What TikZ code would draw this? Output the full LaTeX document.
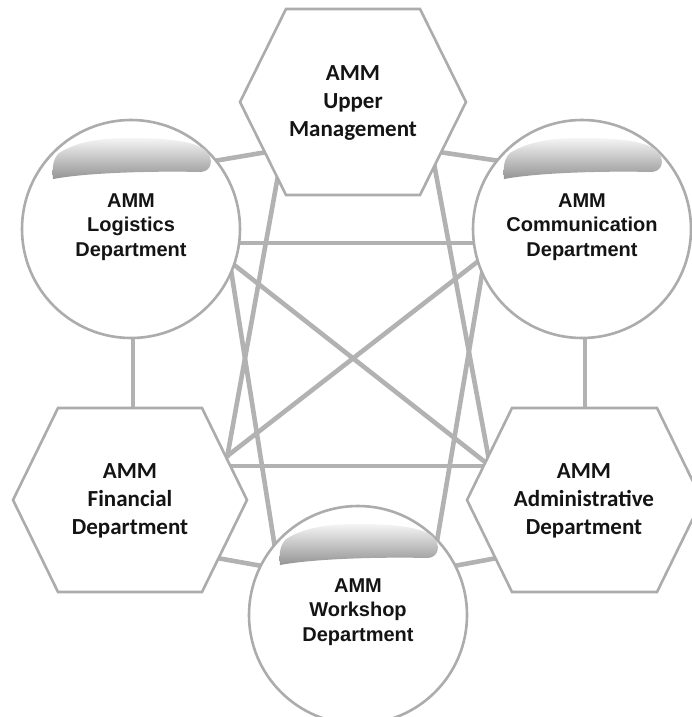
\documentclass[tikz,border=0pt]{standalone}
\usepackage{fontspec}
\newfontfamily\hexfont{Carlito}
\newfontfamily\circfont{Liberation Sans}
\definecolor{lineg}{RGB}{178,178,178}
\definecolor{edgeg}{RGB}{172,172,172}
\definecolor{txt}{RGB}{20,20,20}
\begin{document}
\begin{tikzpicture}[x=1pt,y=-1pt,
  conn/.style={draw=lineg, line width=4.6pt},
  hexshape/.style={draw=edgeg, line width=2.6pt, fill=white, line join=miter},
  circshape/.style={circle, draw=edgeg, line width=2.6pt, fill=white, minimum size=218pt, inner sep=0pt},
  hextext/.style={align=center, font=\hexfont\bfseries\fontsize{23}{28}\selectfont, text=txt},
  circtext/.style={align=center, font=\circfont\bfseries\fontsize{20}{24.5}\selectfont, text=txt},
  gloss/.style={top color=black!4, bottom color=black!42, draw=none}
]
\useasboundingbox (0,0) rectangle (692,717);
\fill[white] (0,0) rectangle (692,717);

% connector end points
\coordinate (upL1) at (267,152);  \coordinate (logR1) at (214,161);
\coordinate (upR1) at (439,152);  \coordinate (comL1) at (500,161);
\coordinate (logR2) at (236,243); \coordinate (comL2) at (477,243);
\coordinate (logB) at (133,335);  \coordinate (finT) at (133,410);
\coordinate (comB) at (585,335);  \coordinate (admT) at (585,410);
\coordinate (finR) at (228,466);  \coordinate (admL) at (486,466);
\coordinate (finRB) at (217,558); \coordinate (wsL) at (262,566);
\coordinate (wsR) at (454,566);   \coordinate (admLB) at (497,558);
\coordinate (upBL) at (279,170);  \coordinate (finRU) at (227,458);
\coordinate (upBR) at (433,158);  \coordinate (admLU) at (489,460);
\coordinate (logR3) at (233,264); \coordinate (admLU2) at (485,462);
\coordinate (comL3) at (481,259); \coordinate (finRU2) at (226,457);
\coordinate (logR4) at (231,270); \coordinate (wsUL) at (275,548);
\coordinate (comL4) at (483,268); \coordinate (wsUR) at (437,541);

% connectors
\draw[conn] (upL1) -- (logR1);
\draw[conn] (upR1) -- (comL1);
\draw[conn] (logR2) -- (comL2);
\draw[conn] (logB) -- (finT);
\draw[conn] (comB) -- (admT);
\draw[conn] (finR) -- (admL);
\draw[conn] (finRB) -- (wsL);
\draw[conn] (wsR) -- (admLB);
\draw[conn] (upBL) -- (finRU);
\draw[conn] (upBR) -- (admLU);
\draw[conn] (logR3) -- (admLU2);
\draw[conn] (comL3) -- (finRU2);
\draw[conn] (logR4) -- (wsUL);
\draw[conn] (comL4) -- (wsUR);

% hexagons
\draw[hexshape] (240,102) -- (286,9) -- (420,9) -- (466,102) -- (420,195) -- (286,195) -- cycle;
\draw[hexshape] (13,500) -- (58,408) -- (202,408) -- (247,500) -- (202,592) -- (58,592) -- cycle;
\draw[hexshape] (467,500) -- (512,408) -- (657,408) -- (702,500) -- (657,592) -- (512,592) -- cycle;

% circles
\node[circshape] (logC) at (131,229) {};
\node[circshape] (comC) at (582,229) {};
\node[circshape] (wsC) at (358,615) {};

% gloss highlights
\foreach \cx/\cy in {131/229, 582/229, 358/615}{
  \begin{scope}[shift={(\cx,\cy)}]
    \shade[gloss] (-78,-50) .. controls (-79,-62) and (-78,-70) .. (-72,-76)
      .. controls (-50,-90) and (-20,-91) .. (0,-91)
      .. controls (35,-91) and (65,-88) .. (75,-78)
      .. controls (83,-70) and (81,-58) .. (70,-57)
      .. controls (30,-58) and (-40,-57) .. (-78,-50) -- cycle;
  \end{scope}
}

% texts
\node[hextext] (upT) at (353,103) {AMM\\Upper\\Management};
\node[hextext] (finTx) at (130,501) {AMM\\Financial\\Department};
\node[hextext] (admTx) at (584,501) {AMM\\Administrative\\Department};
\node[circtext] (logTx) at (131,227) {AMM\\Logistics\\Department};
\node[circtext] (comTx) at (582,227) {AMM\\Communication\\Department};
\node[circtext] (wsTx) at (358,612) {AMM\\Workshop\\Department};
\end{tikzpicture}
\end{document}
